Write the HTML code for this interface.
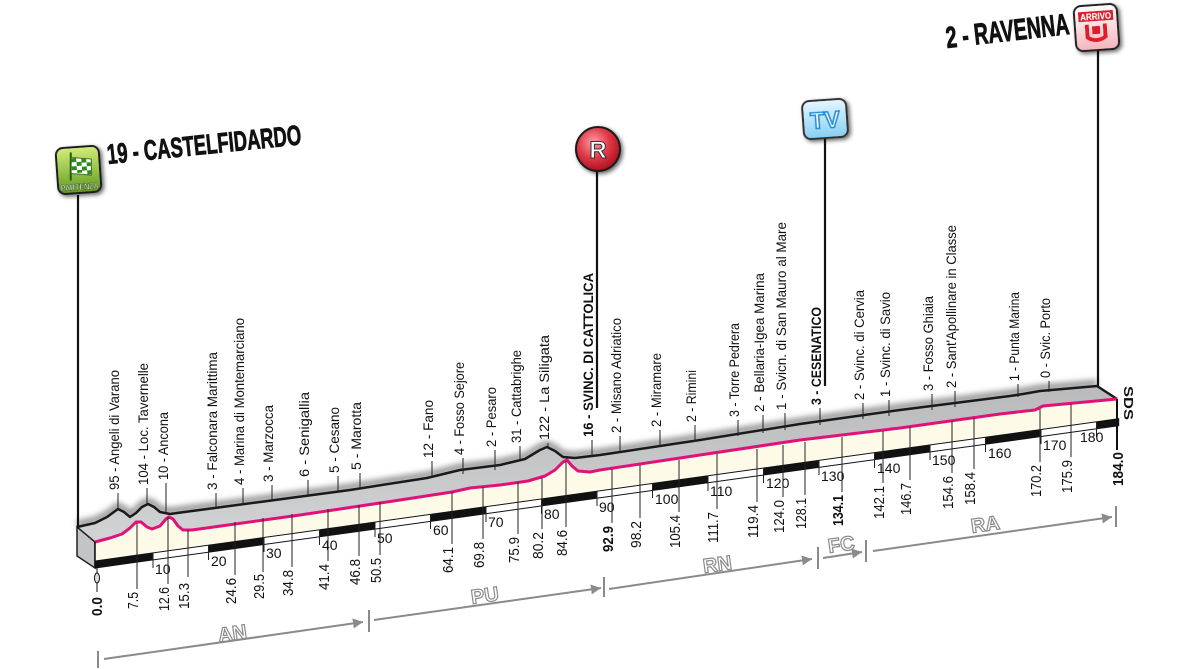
<!DOCTYPE html>
<html><head><meta charset="utf-8"><style>
html,body{margin:0;padding:0;background:#fff;}
svg{display:block;}
.t{font-family:"Liberation Sans Narrow","Liberation Sans",sans-serif;font-size:14px;fill:#111;}
.b{font-family:"Liberation Sans Narrow","Liberation Sans",sans-serif;font-size:15px;fill:#111;}
.bb{font-weight:bold;}
.k{font-family:"Liberation Sans Narrow","Liberation Sans",sans-serif;font-size:14px;fill:#111;}
.pv{font-family:"Liberation Sans","DejaVu Sans",sans-serif;font-size:20px;font-weight:bold;fill:#fff;stroke:#8a8a8a;stroke-width:1.2;}
.tk{stroke:#222;stroke-width:1;}
</style></head><body>
<svg width="1200" height="669" viewBox="0 0 1200 669" xmlns="http://www.w3.org/2000/svg">
<defs>
<filter id="bl" x="-5%" y="-50%" width="110%" height="200%"><feGaussianBlur stdDeviation="3"/></filter>
<filter id="ds" x="-30%" y="-30%" width="160%" height="160%"><feGaussianBlur in="SourceAlpha" stdDeviation="2"/><feOffset dx="2" dy="2"/><feComponentTransfer><feFuncA type="linear" slope="0.6"/></feComponentTransfer><feMerge><feMergeNode/><feMergeNode in="SourceGraphic"/></feMerge></filter>
<linearGradient id="gg" x1="0" y1="0" x2="0" y2="1"><stop offset="0" stop-color="#b9babc"/><stop offset="1" stop-color="#d2d3d5"/></linearGradient>
<linearGradient id="grn" x1="0" y1="0" x2="0" y2="1"><stop offset="0" stop-color="#d5ec7a"/><stop offset="1" stop-color="#5f9a1e"/></linearGradient>
<radialGradient id="red" cx="0.4" cy="0.35" r="0.7"><stop offset="0" stop-color="#f7a0a8"/><stop offset="0.5" stop-color="#e03a48"/><stop offset="1" stop-color="#a80d19"/></radialGradient>
<linearGradient id="blu" x1="0" y1="0" x2="0" y2="1"><stop offset="0" stop-color="#e6f7fe"/><stop offset="1" stop-color="#86cff2"/></linearGradient>
<linearGradient id="pnk" x1="0" y1="0" x2="0" y2="1"><stop offset="0" stop-color="#fff"/><stop offset="1" stop-color="#f3b5bb"/></linearGradient>
<marker id="ar" markerWidth="6" markerHeight="6" refX="5" refY="3" orient="auto"><path d="M0,0.5 L5,3 L0,5.5 z" fill="#8a8a8a"/></marker>
</defs>

<polyline filter="url(#bl)" fill="none" stroke="#999" stroke-width="7" transform="translate(0,-3)" points="77,527 95,523 107,517 118,509 124,512 130,517 136,513 142,507 148,504 154,507 160,512 170,514 177,513 260,502 350,490 427,478 460,470 500,465 525,459 540,450 547,447 555,451 563,457 575,458 600,455 700,440 800,424 900,410 1010,396 1023,394 1040,391 1097,386"/>

<polygon fill="url(#gg)" points="77,527 95,523 107,517 118,509 124,512 130,517 136,513 142,507 148,504 154,507 160,512 170,514 177,513 260,502 350,490 427,478 460,470 500,465 525,459 540,450 547,447 555,451 563,457 575,458 600,455 700,440 800,424 900,410 1010,396 1023,394 1040,391 1097,386 1117,399 1043,406 1035,410 1000,414 900,428 800,440 700,455 600,470 590,472 578,471 572,466 567,460 563,462 555,470 545,476 528,481 500,485 470,488 452,492 400,500 300,515 192,530 183,530 178,526 173,519 169,517 166,519 160,526 152,529 147,527 141,522 136,522 130,528 122,534 110,538 95,542"/>
<polygon fill="#c3c4c6" stroke="#222" stroke-width="1.5" points="77,527 95,542 95,568 77,556"/>
<polygon fill="#fdfbe8" points="95,542 110,538 122,534 130,528 136,522 141,522 147,527 152,529 160,526 166,519 169,517 173,519 178,526 183,530 192,530 300,515 400,500 452,492 470,488 500,485 528,481 545,476 555,470 563,462 567,460 572,466 578,471 590,472 600,470 700,455 800,440 900,428 1000,414 1035,410 1043,406 1117,399 1117,419 95,561"/>
<polyline fill="none" stroke="#1a1a1a" stroke-width="2.5" stroke-linejoin="round" points="77,527 95,523 107,517 118,509 124,512 130,517 136,513 142,507 148,504 154,507 160,512 170,514 177,513 260,502 350,490 427,478 460,470 500,465 525,459 540,450 547,447 555,451 563,457 575,458 600,455 700,440 800,424 900,410 1010,396 1023,394 1040,391 1097,386 1117,399"/>
<polyline fill="none" stroke="#e0127a" stroke-width="3" stroke-linejoin="round" points="95,542 110,538 122,534 130,528 136,522 141,522 147,527 152,529 160,526 166,519 169,517 173,519 178,526 183,530 192,530 300,515 400,500 452,492 470,488 500,485 528,481 545,476 555,470 563,462 567,460 572,466 578,471 590,472 600,470 700,455 800,440 900,428 1000,414 1035,410 1043,406 1117,399"/>

<g transform="matrix(1,-0.139,0,1,0,13.2)">
<rect x="95" y="561" width="1023.7" height="7" fill="#fff" stroke="#111" stroke-width="1"/>
<g fill="#111">
<rect x="95" y="561" width="58" height="7"/>
<rect x="208.5" y="561" width="55.5" height="7"/>
<rect x="319.5" y="561" width="55.5" height="7"/>
<rect x="430.5" y="561" width="55.5" height="7"/>
<rect x="541.5" y="561" width="55.5" height="7"/>
<rect x="652.5" y="561" width="55.5" height="7"/>
<rect x="763.5" y="561" width="55.5" height="7"/>
<rect x="874.5" y="561" width="55.5" height="7"/>
<rect x="985.5" y="561" width="55.5" height="7"/>
<rect x="1096.5" y="561" width="22.2" height="7"/>
</g>
</g>
<g class="tk">
<line x1="153" y1="553" x2="153" y2="568"/><line x1="208.5" y1="545" x2="208.5" y2="560"/><line x1="264" y1="537" x2="264" y2="552"/><line x1="319.5" y1="530" x2="319.5" y2="545"/><line x1="375" y1="522" x2="375" y2="537"/><line x1="430.5" y1="514" x2="430.5" y2="529"/><line x1="486" y1="507" x2="486" y2="522"/><line x1="541.5" y1="499" x2="541.5" y2="514"/><line x1="597" y1="491" x2="597" y2="506"/><line x1="652.5" y1="483" x2="652.5" y2="498"/><line x1="708" y1="476" x2="708" y2="491"/><line x1="763.5" y1="468" x2="763.5" y2="483"/><line x1="819" y1="460" x2="819" y2="475"/><line x1="874.5" y1="453" x2="874.5" y2="468"/><line x1="930" y1="445" x2="930" y2="460"/><line x1="985.5" y1="437" x2="985.5" y2="452"/><line x1="1041" y1="429" x2="1041" y2="444"/><line x1="1096.5" y1="422" x2="1096.5" y2="437"/>
</g>
<g class="k">
<text x="155" y="574">10</text><text x="211" y="566">20</text><text x="266" y="558">30</text><text x="322" y="550">40</text><text x="377" y="543">50</text><text x="433" y="535">60</text><text x="488" y="527">70</text><text x="544" y="519">80</text><text x="599" y="512">90</text><text x="655" y="504">100</text><text x="710" y="496">110</text><text x="766" y="488">120</text><text x="821" y="481">130</text><text x="877" y="473">140</text><text x="932" y="465">150</text><text x="988" y="458">160</text><text x="1043" y="450">170</text><text x="1080" y="442">180</text>
</g>

<line x1="1117" y1="399" x2="1117" y2="450" stroke="#111" stroke-width="2"/>
<line x1="95" y1="542" x2="95" y2="568" stroke="#111" stroke-width="1.5"/>
<line x1="97" y1="568" x2="97" y2="592" stroke="#111" stroke-width="1"/>
<ellipse cx="97" cy="578" rx="2.5" ry="5" fill="#ddd" stroke="#111" stroke-width="1"/>

<g class="tk">
<line x1="137" y1="523" x2="137" y2="589"/><line x1="168" y1="517" x2="168" y2="584"/><line x1="188" y1="530" x2="188" y2="577"/><line x1="235" y1="522" x2="235" y2="575"/><line x1="263" y1="518" x2="263" y2="572"/><line x1="292" y1="514" x2="292" y2="567"/><line x1="328" y1="509" x2="328" y2="561"/><line x1="359" y1="505" x2="359" y2="556"/><line x1="380" y1="502" x2="380" y2="555"/><line x1="452" y1="492" x2="452" y2="544"/><line x1="483" y1="487" x2="483" y2="539"/><line x1="518" y1="482" x2="518" y2="534"/><line x1="542" y1="478" x2="542" y2="529"/><line x1="566" y1="461" x2="566" y2="527"/><line x1="612" y1="469" x2="612" y2="523"/><line x1="640" y1="465" x2="640" y2="518"/><line x1="679" y1="460" x2="679" y2="512"/><line x1="717" y1="454" x2="717" y2="509"/><line x1="757" y1="449" x2="757" y2="502"/><line x1="783" y1="445" x2="783" y2="497"/><line x1="805" y1="442" x2="805" y2="495"/><line x1="842" y1="437" x2="842" y2="492"/><line x1="883" y1="431" x2="883" y2="483"/><line x1="910" y1="427" x2="910" y2="480"/><line x1="952" y1="421" x2="952" y2="473"/><line x1="974" y1="418" x2="974" y2="469"/><line x1="1040" y1="409" x2="1040" y2="462"/><line x1="1071" y1="404" x2="1071" y2="457"/>
</g>
<g class="b">
<text class="bb" transform="translate(102,616) rotate(-90)" textLength="19" lengthAdjust="spacingAndGlyphs">0.0</text>
<text transform="translate(138,609) rotate(-90)" textLength="17" lengthAdjust="spacingAndGlyphs">7.5</text>
<text transform="translate(169,611) rotate(-90)" textLength="24" lengthAdjust="spacingAndGlyphs">12.6</text>
<text transform="translate(189,609) rotate(-90)" textLength="26" lengthAdjust="spacingAndGlyphs">15.3</text>
<text transform="translate(236,604) rotate(-90)" textLength="26" lengthAdjust="spacingAndGlyphs">24.6</text>
<text transform="translate(264,599) rotate(-90)" textLength="25" lengthAdjust="spacingAndGlyphs">29.5</text>
<text transform="translate(293,596) rotate(-90)" textLength="26" lengthAdjust="spacingAndGlyphs">34.8</text>
<text transform="translate(329,590) rotate(-90)" textLength="26" lengthAdjust="spacingAndGlyphs">41.4</text>
<text transform="translate(360,585) rotate(-90)" textLength="26" lengthAdjust="spacingAndGlyphs">46.8</text>
<text transform="translate(381,583) rotate(-90)" textLength="25" lengthAdjust="spacingAndGlyphs">50.5</text>
<text transform="translate(453,573) rotate(-90)" textLength="26" lengthAdjust="spacingAndGlyphs">64.1</text>
<text transform="translate(484,568) rotate(-90)" textLength="26" lengthAdjust="spacingAndGlyphs">69.8</text>
<text transform="translate(519,563) rotate(-90)" textLength="26" lengthAdjust="spacingAndGlyphs">75.9</text>
<text transform="translate(543,559) rotate(-90)" textLength="27" lengthAdjust="spacingAndGlyphs">80.2</text>
<text transform="translate(567,556) rotate(-90)" textLength="26" lengthAdjust="spacingAndGlyphs">84.6</text>
<text class="bb" transform="translate(613,552) rotate(-90)" textLength="26" lengthAdjust="spacingAndGlyphs">92.9</text>
<text transform="translate(641,548) rotate(-90)" textLength="27" lengthAdjust="spacingAndGlyphs">98.2</text>
<text transform="translate(680,548) rotate(-90)" textLength="33" lengthAdjust="spacingAndGlyphs">105.4</text>
<text transform="translate(718,543) rotate(-90)" textLength="31" lengthAdjust="spacingAndGlyphs">111.7</text>
<text transform="translate(758,538) rotate(-90)" textLength="33" lengthAdjust="spacingAndGlyphs">119.4</text>
<text transform="translate(784,533) rotate(-90)" textLength="33" lengthAdjust="spacingAndGlyphs">124.0</text>
<text transform="translate(806,529) rotate(-90)" textLength="31" lengthAdjust="spacingAndGlyphs">128.1</text>
<text class="bb" transform="translate(843,526) rotate(-90)" textLength="31" lengthAdjust="spacingAndGlyphs">134.1</text>
<text transform="translate(884,519) rotate(-90)" textLength="33" lengthAdjust="spacingAndGlyphs">142.1</text>
<text transform="translate(911,515) rotate(-90)" textLength="32" lengthAdjust="spacingAndGlyphs">146.7</text>
<text transform="translate(953,509) rotate(-90)" textLength="33" lengthAdjust="spacingAndGlyphs">154.6</text>
<text transform="translate(975,505) rotate(-90)" textLength="33" lengthAdjust="spacingAndGlyphs">158.4</text>
<text transform="translate(1041,497) rotate(-90)" textLength="32" lengthAdjust="spacingAndGlyphs">170.2</text>
<text transform="translate(1072,493) rotate(-90)" textLength="33" lengthAdjust="spacingAndGlyphs">175.9</text>
<text class="bb" transform="translate(1123,486) rotate(-90)" textLength="34" lengthAdjust="spacingAndGlyphs">184.0</text>
</g>

<g class="tk">
<line x1="118" y1="509" x2="118" y2="493"/><line x1="147" y1="504" x2="147" y2="488"/><line x1="166" y1="514" x2="166" y2="483"/><line x1="216" y1="508" x2="216" y2="493"/><line x1="243" y1="504" x2="243" y2="488"/><line x1="272" y1="500" x2="272" y2="485"/><line x1="308" y1="495" x2="308" y2="480"/><line x1="338" y1="491" x2="338" y2="476"/><line x1="360" y1="488" x2="360" y2="473"/><line x1="432" y1="478" x2="432" y2="461"/><line x1="463" y1="474" x2="463" y2="458"/><line x1="495" y1="470" x2="495" y2="450"/><line x1="520" y1="461" x2="520" y2="446"/><line x1="548" y1="447" x2="548" y2="443"/><line x1="592" y1="455" x2="592" y2="440"/><line x1="620" y1="453" x2="620" y2="436"/><line x1="660" y1="447" x2="660" y2="430"/><line x1="695" y1="442" x2="695" y2="425"/><line x1="738" y1="436" x2="738" y2="420"/><line x1="763" y1="433" x2="763" y2="415"/><line x1="785" y1="430" x2="785" y2="413"/><line x1="820" y1="425" x2="820" y2="408"/><line x1="863" y1="419" x2="863" y2="403"/><line x1="889" y1="416" x2="889" y2="400"/><line x1="932" y1="410" x2="932" y2="394"/><line x1="955" y1="407" x2="955" y2="391"/><line x1="1018" y1="397" x2="1018" y2="384"/><line x1="1049" y1="392" x2="1049" y2="381"/>
</g>
<g class="t">
<text transform="translate(119,490) rotate(-90)" textLength="120" lengthAdjust="spacingAndGlyphs">95 - Angeli di Varano</text>
<text transform="translate(148,485) rotate(-90)" textLength="122" lengthAdjust="spacingAndGlyphs">104 - Loc. Tavernelle</text>
<text transform="translate(168,480) rotate(-90)" textLength="68" lengthAdjust="spacingAndGlyphs">10 - Ancona</text>
<text transform="translate(217,490) rotate(-90)" textLength="138" lengthAdjust="spacingAndGlyphs">3 - Falconara Marittima</text>
<text transform="translate(244,485) rotate(-90)" textLength="167" lengthAdjust="spacingAndGlyphs">4 - Marina di Montemarciano</text>
<text transform="translate(273,482) rotate(-90)" textLength="77" lengthAdjust="spacingAndGlyphs">3 - Marzocca</text>
<text transform="translate(309,477) rotate(-90)" textLength="85" lengthAdjust="spacingAndGlyphs">6 - Senigallia</text>
<text transform="translate(339,473) rotate(-90)" textLength="66" lengthAdjust="spacingAndGlyphs">5 - Cesano</text>
<text transform="translate(361,470) rotate(-90)" textLength="68" lengthAdjust="spacingAndGlyphs">5 - Marotta</text>
<text transform="translate(433,458) rotate(-90)" textLength="58" lengthAdjust="spacingAndGlyphs">12 - Fano</text>
<text transform="translate(464,455) rotate(-90)" textLength="93" lengthAdjust="spacingAndGlyphs">4 - Fosso Sejore</text>
<text transform="translate(496,447) rotate(-90)" textLength="60" lengthAdjust="spacingAndGlyphs">2 - Pesaro</text>
<text transform="translate(521,443) rotate(-90)" textLength="93" lengthAdjust="spacingAndGlyphs">31 - Cattabrighe</text>
<text transform="translate(549,440) rotate(-90)" textLength="105" lengthAdjust="spacingAndGlyphs">122 - La Siligata</text>
<text class="bb" transform="translate(593,437) rotate(-90)" textLength="164" lengthAdjust="spacingAndGlyphs">16 - SVINC. DI CATTOLICA</text>
<text transform="translate(621,433) rotate(-90)" textLength="115" lengthAdjust="spacingAndGlyphs">2 - Misano Adriatico</text>
<text transform="translate(661,427) rotate(-90)" textLength="74" lengthAdjust="spacingAndGlyphs">2 - Miramare</text>
<text transform="translate(696,422) rotate(-90)" textLength="52" lengthAdjust="spacingAndGlyphs">2 - Rimini</text>
<text transform="translate(739,417) rotate(-90)" textLength="94" lengthAdjust="spacingAndGlyphs">3 - Torre Pedrera</text>
<text transform="translate(764,412) rotate(-90)" textLength="139" lengthAdjust="spacingAndGlyphs">2 - Bellaria-Igea Marina</text>
<text transform="translate(786,410) rotate(-90)" textLength="188" lengthAdjust="spacingAndGlyphs">1 - Svicn. di San Mauro al Mare</text>
<text class="bb" transform="translate(821,405) rotate(-90)" textLength="98" lengthAdjust="spacingAndGlyphs">3 - CESENATICO</text>
<text transform="translate(864,400) rotate(-90)" textLength="110" lengthAdjust="spacingAndGlyphs">2 - Svinc. di Cervia</text>
<text transform="translate(890,397) rotate(-90)" textLength="105" lengthAdjust="spacingAndGlyphs">1 - Svinc. di Savio</text>
<text transform="translate(933,391) rotate(-90)" textLength="95" lengthAdjust="spacingAndGlyphs">3 - Fosso Ghiaia</text>
<text transform="translate(956,388) rotate(-90)" textLength="163" lengthAdjust="spacingAndGlyphs">2 - Sant'Apollinare in Classe</text>
<text transform="translate(1019,381) rotate(-90)" textLength="89" lengthAdjust="spacingAndGlyphs">1 - Punta Marina</text>
<text transform="translate(1050,378) rotate(-90)" textLength="80" lengthAdjust="spacingAndGlyphs">0 - Svic. Porto</text>
</g>
<text transform="translate(1124,386) rotate(90)" font-family="Liberation Sans, sans-serif" font-weight="bold" font-size="13" fill="#111" textLength="34" lengthAdjust="spacingAndGlyphs">SDS</text>

<g stroke="#111" stroke-width="2.2">
<line x1="78" y1="195" x2="78" y2="527"/>
<line x1="597" y1="170" x2="597" y2="408"/>
<line x1="825" y1="138" x2="825" y2="386"/>
<line x1="1098" y1="50" x2="1098" y2="386"/>
</g>

<g stroke="#8a8a8a" stroke-width="2" fill="none">
<line x1="98" y1="651" x2="98" y2="668"/>
<line x1="104" y1="659" x2="363" y2="622" marker-end="url(#ar)"/>
<line x1="369" y1="610" x2="369" y2="632"/>
<line x1="374" y1="620" x2="601" y2="588" marker-end="url(#ar)"/>
<line x1="604" y1="577" x2="604" y2="597"/>
<line x1="609" y1="589" x2="812" y2="559" marker-end="url(#ar)"/>
<line x1="818" y1="547" x2="818" y2="569"/>
<line x1="823" y1="558" x2="862" y2="552" marker-end="url(#ar)"/>
<line x1="866" y1="540" x2="866" y2="562"/>
<line x1="873" y1="551" x2="1112" y2="517" marker-end="url(#ar)"/>
<line x1="1116" y1="506" x2="1116" y2="527"/>
</g>
<text class="pv" transform="translate(219,642) rotate(-8)">AN</text>
<text class="pv" transform="translate(472,604) rotate(-8)">PU</text>
<text class="pv" transform="translate(704,573) rotate(-8)">RN</text>
<text class="pv" transform="translate(829,553) rotate(-8)" font-size="17">FC</text>
<text class="pv" transform="translate(972,533) rotate(-8)">RA</text>

<g filter="url(#ds)" transform="rotate(-4 78 170)">
<rect x="57" y="147" width="43" height="46" rx="7" fill="url(#grn)" stroke="#1c1c1c" stroke-width="2"/>
<line x1="72" y1="152" x2="70" y2="180" stroke="#1e5a10" stroke-width="2"/>
<path d="M72,157 L92,160 L91,176 L71,173 z" fill="#fff" stroke="#2a6b14" stroke-width="1"/>
<g fill="#2f8a18"><rect x="72" y="158" width="5" height="4"/><rect x="82" y="159" width="5" height="4"/><rect x="77" y="162" width="5" height="4"/><rect x="87" y="163" width="4" height="4"/><rect x="72" y="166" width="5" height="4"/><rect x="82" y="167" width="5" height="4"/><rect x="77" y="170" width="5" height="3"/><rect x="87" y="171" width="4" height="4"/></g>
<text x="78.5" y="190" text-anchor="middle" font-family="Liberation Sans Narrow, Liberation Sans, sans-serif" font-size="8.5" font-weight="bold" fill="#fff" stroke="#2a4a10" stroke-width="0.5" textLength="38" lengthAdjust="spacingAndGlyphs">PARTENZA</text>
</g>
<text transform="translate(108,164) rotate(-5.8)" font-family="Liberation Sans Narrow, Liberation Sans, sans-serif" font-weight="bold" font-size="28" fill="#111" stroke="#111" stroke-width="0.8" textLength="195" lengthAdjust="spacingAndGlyphs">19 - CASTELFIDARDO</text>

<g filter="url(#ds)">
<circle cx="598" cy="149" r="22" fill="url(#red)" stroke="#1a1a1a" stroke-width="2"/>
<text x="598" y="158" text-anchor="middle" font-family="Liberation Sans, sans-serif" font-weight="bold" font-size="24" fill="#fff" stroke="#333" stroke-width="1">R</text>
</g>

<g filter="url(#ds)" transform="rotate(-4 825 119)">
<rect x="803" y="100" width="44" height="38" rx="7" fill="url(#blu)" stroke="#333" stroke-width="2"/>
<text x="825" y="128" text-anchor="middle" font-family="Liberation Sans, sans-serif" font-weight="bold" font-size="23" fill="#fff" stroke="#1a8ed8" stroke-width="1.6">TV</text>
</g>

<g filter="url(#ds)" transform="rotate(-4 1097 28)">
<rect x="1075" y="5" width="43" height="45" rx="7" fill="url(#pnk)" stroke="#222" stroke-width="2"/>
<rect x="1079" y="11" width="35" height="10" fill="#e01e2a"/>
<text x="1096.5" y="19.5" text-anchor="middle" font-family="Liberation Sans Narrow, Liberation Sans, sans-serif" font-weight="bold" font-size="9" fill="#fff" textLength="31" lengthAdjust="spacingAndGlyphs">ARRIVO</text>
<path d="M1085,24 L1089,24 L1089,36 Q1096,40 1103,36 L1103,24 L1107,24 L1107,38 Q1096,46 1085,38 z" fill="#e01e2a"/>
<rect x="1092" y="26" width="8" height="8" fill="#e01e2a"/>
</g>
<text transform="translate(947,48) rotate(-6.5)" font-family="Liberation Sans Narrow, Liberation Sans, sans-serif" font-weight="bold" font-size="30" fill="#111" stroke="#111" stroke-width="0.8" textLength="124" lengthAdjust="spacingAndGlyphs">2 - RAVENNA</text>
</svg>
</body></html>
